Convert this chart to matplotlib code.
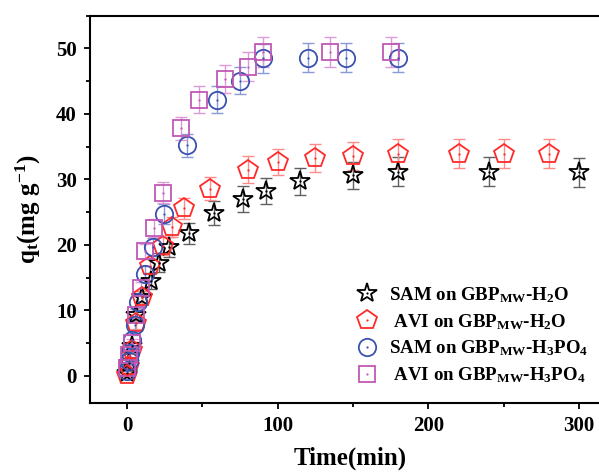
import matplotlib
matplotlib.use("Agg")
import matplotlib.pyplot as plt
from matplotlib.ticker import MultipleLocator
from matplotlib.legend_handler import HandlerTuple

plt.rcParams['font.family'] = ['Liberation Serif', 'DejaVu Serif']
plt.rcParams['font.weight'] = 'bold'
plt.rcParams['mathtext.fontset'] = 'custom'
plt.rcParams['mathtext.rm'] = 'Liberation Serif:bold'
plt.rcParams['mathtext.bf'] = 'Liberation Serif:bold'
plt.rcParams['mathtext.it'] = 'Liberation Serif:bold'

# ---- data ----
sam_h2o_t = [0, 1, 3, 6, 10, 16, 21.5, 28, 41, 58, 77, 92, 115, 150, 180, 240, 300]
sam_h2o_q = [0.5, 2.0, 4.5, 9.3, 12.0, 14.5, 17.3, 19.7, 21.8, 24.9, 27.0, 28.2, 29.7, 30.6, 31.2, 31.2, 31.1]
sam_h2o_e = [0.3, 0.5, 0.7, 0.9, 1.0, 1.2, 1.4, 1.5, 1.6, 1.8, 2.0, 2.0, 2.1, 2.1, 2.2, 2.2, 2.2]

avi_h2o_t = [0, 1, 3, 6, 10, 15, 24, 30, 38, 55, 80, 100, 125, 150, 180, 220, 250, 280]
avi_h2o_q = [0.2, 1.5, 4.0, 8.0, 12.0, 16.7, 19.8, 22.7, 25.6, 28.6, 31.5, 32.6, 33.3, 33.6, 33.9, 33.9, 33.9, 33.9]
avi_h2o_e = [0.3, 0.5, 0.7, 0.9, 1.0, 1.2, 1.4, 1.5, 1.6, 1.8, 2.0, 2.0, 2.1, 2.1, 2.2, 2.2, 2.2, 2.2]

sam_h3po4_t = [0, 1, 2, 3.5, 5.3, 7.5, 12, 17.5, 24.6, 40, 60, 75, 90, 120, 145, 180]
sam_h3po4_q = [0.8, 2.2, 3.5, 5.5, 7.8, 11.3, 15.5, 19.7, 24.7, 35.2, 42.2, 45.1, 48.5, 48.6, 48.6, 48.6]
sam_h3po4_e = [0.3, 0.5, 0.6, 0.8, 0.9, 1.0, 1.2, 1.4, 1.5, 1.8, 2.0, 2.1, 2.2, 2.2, 2.2, 2.2]

avi_h3po4_t = [0, 1.3, 3.1, 5.8, 9, 12, 18, 24, 36, 48, 65, 80, 90, 135, 175]
avi_h3po4_q = [1.2, 3.2, 5.0, 9.3, 13.4, 19.0, 22.6, 28.0, 37.8, 42.2, 45.3, 47.2, 49.5, 49.5, 49.5]
avi_h3po4_e = [0.3, 0.5, 0.7, 0.9, 1.0, 1.2, 1.4, 1.6, 1.8, 2.0, 2.1, 2.2, 2.3, 2.3, 2.3]

labels = [r'SAM on GBP$_{\mathrm{MW}}$-H$_{\mathrm{2}}$O',
          r' AVI on GBP$_{\mathrm{MW}}$-H$_{\mathrm{2}}$O',
          r'SAM on GBP$_{\mathrm{MW}}$-H$_{\mathrm{3}}$PO$_{\mathrm{4}}$',
          r' AVI on GBP$_{\mathrm{MW}}$-H$_{\mathrm{3}}$PO$_{\mathrm{4}}$']

series = [
    (sam_h2o_t, sam_h2o_q, sam_h2o_e, '*', 14.6, '#000000', '#606060'),
    (avi_h2o_t, avi_h2o_q, avi_h2o_e, 'p', 15.0, '#FF2A2A', '#FF8A8A'),
    (sam_h3po4_t, sam_h3po4_q, sam_h3po4_e, 'o', 12.5, '#3A52B0', '#8A9AD8'),
    (avi_h3po4_t, avi_h3po4_q, avi_h3po4_e, 's', 11.5, '#C058B4', '#DC9AD6'),
]

fig = plt.figure(figsize=(5.99, 4.72), dpi=100)
ax = fig.add_axes([90/599, (472-402.7)/472, (611-90)/599, (402.7-15.7)/472])

handles = []
for t, q, e, m, ms, c, ec in series:
    ax.errorbar(t, q, yerr=e, fmt='none', ecolor=ec, elinewidth=1.0, capsize=4, capthick=1.0, zorder=2)
    h1, = ax.plot(t, q, linestyle='none', marker=m, markersize=ms, markerfacecolor='none',
                  markeredgecolor=c, markeredgewidth=1.3, zorder=3)
    h2, = ax.plot(t, q, linestyle='none', marker='o', markersize=1.6, markerfacecolor=c,
                  markeredgecolor=c, markeredgewidth=0, zorder=4)
    handles.append((h1, h2))

ax.set_xlim(-24.6, 321.2)
ax.set_ylim(-4.1, 55.0)
ax.xaxis.set_major_locator(MultipleLocator(100))
ax.xaxis.set_minor_locator(MultipleLocator(50))
ax.yaxis.set_major_locator(MultipleLocator(10))
ax.yaxis.set_minor_locator(MultipleLocator(5))
ax.tick_params(which='both', direction='out', width=1.3, labelsize=15)
ax.tick_params(which='major', length=4.5, pad=5)
ax.tick_params(which='minor', length=3)
for lab in ax.get_xticklabels() + ax.get_yticklabels():
    lab.set_fontweight('bold')
for s in ax.spines.values():
    s.set_linewidth(1.5)

ax.set_xlabel('Time(min)', fontsize=18, fontweight='bold', labelpad=8)
ax.set_ylabel(r'q$_{\mathrm{t}}$(mg g$^{\mathrm{-1}}$)', fontsize=18, fontweight='bold', labelpad=9)

leg = fig.legend(handles, labels, loc='upper left', bbox_to_anchor=(355/599, 1-285/472),
                 bbox_transform=fig.transFigure, frameon=False, fontsize=13.6,
                 handlelength=1.25, handletextpad=0.55, borderpad=0, borderaxespad=0,
                 labelspacing=0.38, handler_map={tuple: HandlerTuple(ndivide=1, pad=0)})
for txt in leg.get_texts():
    txt.set_fontweight('bold')

fig.savefig('out.png', dpi=100)
